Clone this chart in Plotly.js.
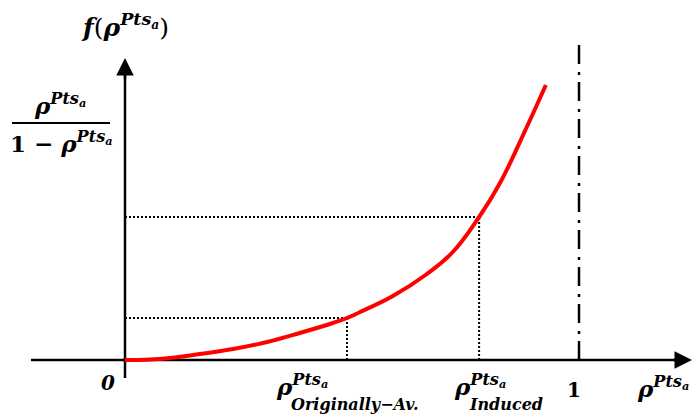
<!DOCTYPE html>
<html>
<head>
<meta charset="utf-8">
<script src="https://cdn.plot.ly/plotly-3.0.1.min.js"></script>
<style>html,body{margin:0;padding:0;background:#fff;}#chart{width:693px;height:416px;}</style>
</head>
<body>
<div id="chart"></div>
<script>
// ---- data ----
const curveRho = [0, 0.055, 0.110, 0.165, 0.238, 0.313, 0.385, 0.458, 0.489, 0.518, 0.590, 0.665, 0.722, 0.780, 0.826, 0.885, 0.927];
const curveF   = [0, 0.005, 0.025, 0.06, 0.11, 0.18, 0.27, 0.37, 0.42, 0.48, 0.64, 0.86, 1.08, 1.43, 1.77, 2.33, 2.75];
const markRho   = [0.489, 0.780];
const markF     = [0.42, 1.43];
const markNames = ['Originally\u2212Av.', 'Induced'];
const asymptoteRho = 1;
const tickZero = '0';
const tickOne = '1';

// ---- pixel helpers (layout only) ----
const X0 = 125, XS = 454, Y0 = 360, YS = 100;
const X = px => (px - X0) / XS;
const Y = py => (Y0 - py) / YS;

const FONT = "'DejaVu Serif', serif";
const rhoSup = '<b><i>\u03C1</i></b><sup><b><i>Pts<sub>a</sub></i></b></sup>';

const shapes = [];
shapes.push({type:'line', xref:'x', yref:'y', x0:X(31), x1:X(684), y0:0, y1:0, line:{color:'#000', width:2.5}, layer:'below'});
shapes.push({type:'line', xref:'x', yref:'y', x0:0, x1:0, y0:Y(378), y1:Y(66), line:{color:'#000', width:2.5}, layer:'below'});
for (let i = 0; i < markRho.length; i++) {
  shapes.push({type:'line', xref:'x', yref:'y', x0:0, x1:markRho[i], y0:markF[i], y1:markF[i], line:{color:'#000', width:2, dash:'2px,2px'}, layer:'below'});
  shapes.push({type:'line', xref:'x', yref:'y', x0:markRho[i], x1:markRho[i], y0:0, y1:markF[i], line:{color:'#000', width:2, dash:'2px,2px'}, layer:'below'});
}
shapes.push({type:'line', xref:'x', yref:'y', x0:asymptoteRho, x1:asymptoteRho, y0:0, y1:Y(43), line:{color:'#000', width:2.5, dash:'19px,7px,3px,8px'}, layer:'below'});
shapes.push({type:'line', xref:'x', yref:'y', x0:X(12), x1:X(110), y0:Y(123), y1:Y(123), line:{color:'#000', width:2}});

const ann = [];
ann.push({x:X(692), y:0, ax:X(672), ay:0, axref:'x', ayref:'y', xref:'x', yref:'y', text:'', showarrow:true, arrowhead:2, arrowsize:1.4, arrowwidth:2.5, arrowcolor:'#000', standoff:0});
ann.push({x:0, y:Y(58), ax:0, ay:Y(80), axref:'x', ayref:'y', xref:'x', yref:'y', text:'', showarrow:true, arrowhead:2, arrowsize:1.4, arrowwidth:2.5, arrowcolor:'#000', standoff:0});
ann.push({x:X(125), y:Y(25), xref:'x', yref:'y', showarrow:false, xanchor:'center', yanchor:'middle',
  text:'<b><i>f</i></b>(' + rhoSup + ')', font:{family:FONT, size:25, color:'#000'}});
ann.push({x:X(60), y:Y(104), xref:'x', yref:'y', showarrow:false, xanchor:'center', yanchor:'middle',
  text:rhoSup, font:{family:FONT, size:23, color:'#000'}});
ann.push({x:X(61), y:Y(142), xref:'x', yref:'y', showarrow:false, xanchor:'center', yanchor:'middle',
  text:'<b>1 \u2212 </b>' + rhoSup, font:{family:FONT, size:23, color:'#000'}});
ann.push({x:X(108), y:Y(383), xref:'x', yref:'y', showarrow:false, xanchor:'center', yanchor:'middle',
  text:'<b><i>' + tickZero + '</i></b>', font:{family:FONT, size:20, color:'#000'}});
ann.push({x:asymptoteRho - X(579) + X(574), y:Y(390), xref:'x', yref:'y', showarrow:false, xanchor:'center', yanchor:'middle',
  text:'<b>' + tickOne + '</b>', font:{family:FONT, size:20, color:'#000'}});
const labelLeft = [274, 452];
for (let i = 0; i < markRho.length; i++) {
  ann.push({x:X(labelLeft[i]), y:Y(385), xref:'x', yref:'y', showarrow:false, xanchor:'left', yanchor:'middle',
    text:rhoSup, font:{family:FONT, size:23, color:'#000'}});
  ann.push({x:X(labelLeft[i] + 15), y:Y(404), xref:'x', yref:'y', showarrow:false, xanchor:'left', yanchor:'middle',
    text:'<b><i>' + markNames[i] + '</i></b>', font:{family:FONT, size:16, color:'#000'}});
}
ann.push({x:X(635), y:Y(387), xref:'x', yref:'y', showarrow:false, xanchor:'left', yanchor:'middle',
  text:rhoSup, font:{family:FONT, size:23, color:'#000'}});

const trace = {x:curveRho, y:curveF, mode:'lines', line:{color:'#ff0000', width:4, shape:'spline', smoothing:1.2}, hoverinfo:'skip'};

const layout = {
  width:693, height:416, margin:{l:0, r:0, t:0, b:0},
  paper_bgcolor:'#fff', plot_bgcolor:'#fff', showlegend:false,
  xaxis:{range:[X(0), X(693)], visible:false, fixedrange:true},
  yaxis:{range:[Y(416), Y(0)], visible:false, fixedrange:true},
  shapes:shapes, annotations:ann
};
Plotly.newPlot('chart', [trace], layout, {staticPlot:true, displayModeBar:false});
</script>
</body>
</html>
